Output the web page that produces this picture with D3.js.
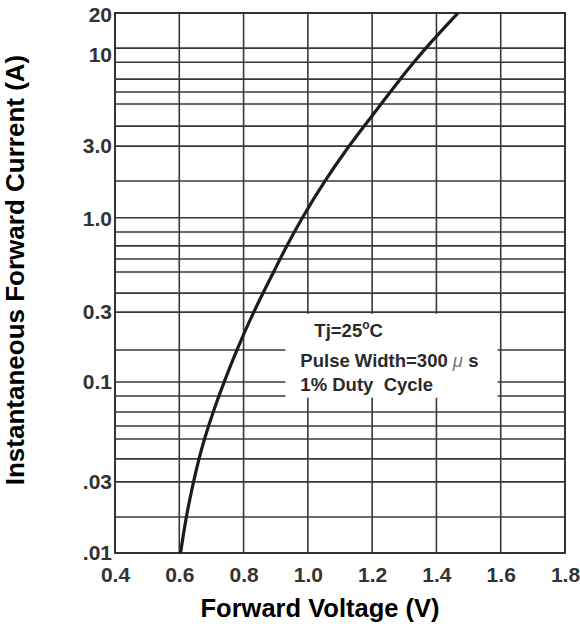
<!DOCTYPE html>
<html lang="en">
<head>
<meta charset="utf-8">
<script src="https://d3js.org/d3.v7.min.js"></script>
<style>
  body { margin: 0; background: #fff; }
  text { font-family: "Liberation Sans", Arial, sans-serif; }
</style>
</head>
<body>
<div id="chart"></div>
<script>
// forward voltage (V) vs instantaneous forward current (A)
var voltage = [0.604, 0.621, 0.644, 0.661, 0.678, 0.705, 0.739, 0.781, 0.832, 0.892,
               0.932, 0.982, 1.052, 1.125, 1.175, 1.228, 1.287, 1.330, 1.366, 1.467];
var current = [0.01, 0.0166, 0.0272, 0.0376, 0.0498, 0.0728, 0.111, 0.179, 0.301, 0.515,
               0.742, 1.12, 1.88, 3.03, 4.07, 5.55, 7.89, 10.0, 12.2, 20];

var xTicks = [0.4, 0.6, 0.8, 1.0, 1.2, 1.4, 1.6, 1.8];
var xGrid = [0.6, 0.8, 1.0, 1.2, 1.4, 1.6];

// the printed grid is not a clean log grid, these are where its lines fall
var yGrid = [12.2, 10.0, 7.89, 6.58, 5.55, 4.07, 3.07, 1.88, 1.12, 0.916, 0.754, 0.627,
             0.522, 0.388, 0.297, 0.174, 0.111, 0.0912, 0.0728, 0.0597, 0.0498, 0.0376,
             0.0272, 0.0166];
var yTickVals = [0.01, 0.0272, 0.111, 0.297, 1.1, 3.07, 11.1, 19.5];
var yTickLabels = [".01", ".03", "0.1", "0.3", "1.0", "3.0", "10", "20"];

var noteLines = ["Pulse Width=300 ", "1% Duty\u00a0 Cycle"];

var margin = {top: 13, right: 15, bottom: 75, left: 115},
    width = 580 - margin.left - margin.right,
    height = 628 - margin.top - margin.bottom;

var svg = d3.select("#chart")
  .append("svg")
    .attr("width", width + margin.left + margin.right)
    .attr("height", height + margin.top + margin.bottom)
  .append("g")
    .attr("transform", `translate(${margin.left},${margin.top})`);

var x = d3.scaleLinear().domain([0.4, 1.8]).range([0, width]);
var y = d3.scaleLog().domain([0.01, 20]).range([height, 0]);

var gridColor = "#383838";

// grid
svg.append("g")
  .selectAll("line").data(xGrid).enter()
  .append("line")
    .attr("x1", function(d) { return x(d); })
    .attr("x2", function(d) { return x(d); })
    .attr("y1", 0)
    .attr("y2", height)
    .attr("stroke", gridColor)
    .attr("stroke-width", 1.6);

svg.append("g")
  .selectAll("line").data(yGrid).enter()
  .append("line")
    .attr("x1", 0)
    .attr("x2", width)
    .attr("y1", function(d) { return y(d); })
    .attr("y2", function(d) { return y(d); })
    .attr("stroke", gridColor)
    .attr("stroke-width", 1.6);

// white box behind the test conditions
svg.append("rect")
  .attr("x", x(0.93))
  .attr("y", y(0.29))
  .attr("width", x(1.59) - x(0.93))
  .attr("height", y(0.089) - y(0.29))
  .attr("fill", "#fff");

svg.append("rect")
  .attr("width", width)
  .attr("height", height)
  .attr("fill", "none")
  .attr("stroke", "#333")
  .attr("stroke-width", 2);

// axes
var xAxis = d3.axisBottom(x)
  .tickValues(xTicks)
  .tickFormat(d3.format(".1f"))
  .tickSize(0)
  .tickPadding(14);
var gx = svg.append("g")
  .attr("transform", `translate(0, ${height})`)
  .call(xAxis);

var yAxis = d3.axisLeft(y)
  .tickValues(yTickVals)
  .tickFormat(function(d, i) { return yTickLabels[i]; })
  .tickSize(0)
  .tickPadding(3);
var gy = svg.append("g").call(yAxis);

[gx, gy].forEach(function(g) {
  g.select(".domain").remove();
  g.selectAll("text")
    .attr("fill", "#333")
    .style("font-size", "21px")
    .style("font-weight", "bold");
});

// curve
var pts = voltage.map(function(v, i) { return {v: v, a: current[i]}; });
svg.append("path")
  .datum(pts)
  .attr("fill", "none")
  .attr("stroke", "#1c1c1c")
  .attr("stroke-width", 3.2)
  .attr("d", d3.line()
    .x(function(d) { return x(d.v); })
    .y(function(d) { return y(d.a); })
    .curve(d3.curveBasis));

// test conditions
var bx = x(0.93), by = y(0.29);
var note = svg.append("g")
  .attr("transform", `translate(${bx},${by})`)
  .attr("fill", "#2a2a2a")
  .style("font-size", "18.5px")
  .style("font-weight", "bold");

var tj = note.append("text").attr("x", 29).attr("y", 23);
tj.append("tspan").text("Tj=25");
tj.append("tspan").attr("dy", -8).style("font-size", "12px").text("o");
tj.append("tspan").attr("dy", 8).text("C");

var pw = note.append("text").attr("x", 15).attr("y", 53).text(noteLines[0]);
pw.append("tspan")
  .style("font-style", "italic")
  .style("font-weight", "normal")
  .attr("fill", "#777")
  .text("\u03bc");
pw.append("tspan").text(" s");

note.append("text").attr("x", 15).attr("y", 77).text(noteLines[1]);

// axis titles
svg.append("text")
  .attr("x", width / 2 - 20)
  .attr("y", height + 64)
  .attr("text-anchor", "middle")
  .style("font-size", "25.5px")
  .style("font-weight", "bold")
  .text("Forward Voltage (V)");

svg.append("text")
  .attr("transform", `translate(${24 - margin.left}, ${height / 2 - 13}) rotate(-90)`)
  .attr("text-anchor", "middle")
  .style("font-size", "26px")
  .style("font-weight", "bold")
  .text("Instantaneous Forward Current (A)");
</script>
</body>
</html>
